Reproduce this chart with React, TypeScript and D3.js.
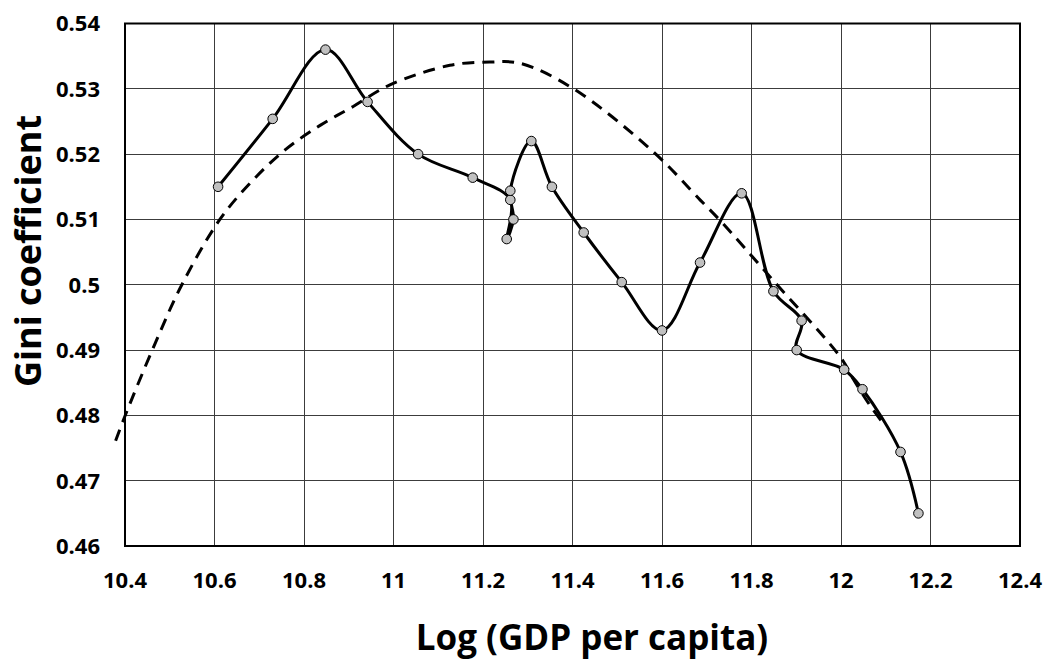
import React from "react";
import * as d3 from "d3";

// Observed Gini coefficient against log GDP per capita (connected in time order)
const logGdp = [
  10.608, 10.73, 10.848, 10.942, 11.055, 11.177, 11.261, 11.253, 11.268, 11.261,
  11.308, 11.354, 11.425, 11.51, 11.6, 11.685, 11.778, 11.849, 11.912, 11.901,
  12.007, 12.048, 12.133, 12.173,
];
const gini = [
  0.515, 0.5254, 0.536, 0.528, 0.52, 0.5164, 0.513, 0.507, 0.51, 0.5144,
  0.522, 0.515, 0.508, 0.5004, 0.493, 0.5034, 0.514, 0.499, 0.4945, 0.49,
  0.487, 0.484, 0.4744, 0.465,
];

// Fitted inverted-U trend (dashed)
const trendX = [
  10.379, 10.4, 10.461, 10.527, 10.612, 10.683, 10.757, 10.836, 10.91, 10.992,
  11.126, 11.215, 11.283, 11.4, 11.58, 11.685, 11.729, 11.848, 12.0, 12.027,
  12.064, 12.094,
];
const trendY = [
  0.4761, 0.4799, 0.49, 0.5, 0.51, 0.5158, 0.5206, 0.5244, 0.5273, 0.5306,
  0.5336, 0.5341, 0.5339, 0.5301, 0.5204, 0.513, 0.5099, 0.5007, 0.4888, 0.4856,
  0.4816, 0.4788,
];

const xTicks = [10.4, 10.6, 10.8, 11, 11.2, 11.4, 11.6, 11.8, 12, 12.2, 12.4];
const yTicks = [0.46, 0.47, 0.48, 0.49, 0.5, 0.51, 0.52, 0.53, 0.54];

const xTitle = "Log (GDP per capita)";
const yTitle = "Gini coefficient";

const W = 1050;
const H = 662;
const plot = { left: 125, right: 1020, top: 23.5, bottom: 546 };
const font = "'Open Sans', 'Liberation Sans', sans-serif";

export default function App() {
  const x = d3.scaleLinear().domain([10.4, 12.4]).range([plot.left, plot.right]);
  const y = d3.scaleLinear().domain([0.46, 0.54]).range([plot.bottom, plot.top]);

  const obs = logGdp.map((v, i) => [v, gini[i]] as [number, number]);
  const trend = trendX.map((v, i) => [v, trendY[i]] as [number, number]);

  const solidLine = d3
    .line<[number, number]>()
    .x((d) => x(d[0]))
    .y((d) => y(d[1]))
    .curve(d3.curveCatmullRom.alpha(0.5));

  const dashLine = d3
    .line<[number, number]>()
    .x((d) => x(d[0]))
    .y((d) => y(d[1]))
    .curve(d3.curveCatmullRom.alpha(0.5));

  return (
    <svg
      width={W}
      height={H}
      style={{ position: "absolute", left: 0, top: 0, background: "#fff" }}
    >
      {/* grid */}
      <g stroke="#3c3c3c" strokeWidth={1} shapeRendering="crispEdges">
        {xTicks.slice(1, -1).map((t) => (
          <line key={"gx" + t} x1={x(t)} x2={x(t)} y1={plot.top} y2={plot.bottom} />
        ))}
        {yTicks.slice(1, -1).map((t) => (
          <line key={"gy" + t} x1={plot.left} x2={plot.right} y1={y(t)} y2={y(t)} />
        ))}
      </g>
      <rect
        x={plot.left}
        y={plot.top}
        width={plot.right - plot.left}
        height={plot.bottom - plot.top}
        fill="none"
        stroke="#000"
        strokeWidth={2}
      />

      {/* trend */}
      <path
        d={dashLine(trend) || ""}
        fill="none"
        stroke="#000"
        strokeWidth={3}
        strokeDasharray="12 8"
      />

      {/* observed path */}
      <path d={solidLine(obs) || ""} fill="none" stroke="#000" strokeWidth={3} />
      {obs.map((d, i) => (
        <circle
          key={i}
          cx={x(d[0])}
          cy={y(d[1])}
          r={4.8}
          fill="#c0c0c0"
          stroke="#000"
          strokeWidth={1}
        />
      ))}

      {/* tick labels */}
      <g fontFamily={font} fontWeight={700} fontSize={22} fill="#000">
        {xTicks.map((t) => (
          <text key={"tx" + t} x={x(t)} y={588} textAnchor="middle">
            {String(t)}
          </text>
        ))}
        {yTicks.map((t) => (
          <text key={"ty" + t} x={100} y={y(t)} dy="0.36em" textAnchor="end">
            {String(t)}
          </text>
        ))}
      </g>

      {/* axis titles */}
      <text
        x={592}
        y={650}
        textAnchor="middle"
        fontFamily={font}
        fontWeight={700}
        fontSize={35}
      >
        {xTitle}
      </text>
      <text
        transform={`translate(41,251) rotate(-90)`}
        textAnchor="middle"
        fontFamily={font}
        fontWeight={700}
        fontSize={36}
      >
        {yTitle}
      </text>
    </svg>
  );
}
